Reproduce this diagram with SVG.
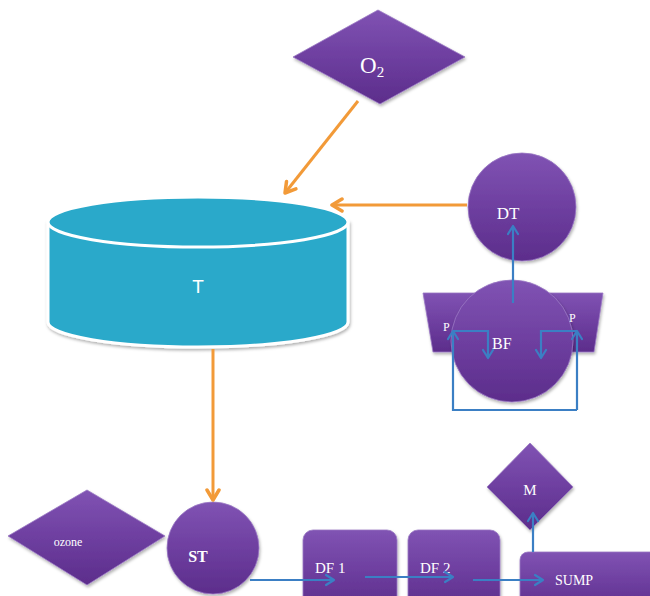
<svg xmlns="http://www.w3.org/2000/svg" width="650" height="596" viewBox="0 0 650 596">
  <defs>
    <linearGradient id="purple" x1="0" y1="0" x2="0" y2="1">
      <stop offset="0" stop-color="#8053b3"/>
      <stop offset="0.5" stop-color="#6e3fa0"/>
      <stop offset="1" stop-color="#5c2d8b"/>
    </linearGradient>
    <filter id="shadow" x="-20%" y="-20%" width="140%" height="140%">
      <feDropShadow dx="1" dy="2" stdDeviation="1.5" flood-color="#000" flood-opacity="0.3"/>
    </filter>
    <marker id="arrOrange" markerUnits="userSpaceOnUse" markerWidth="16" markerHeight="16" viewBox="0 0 16 16" refX="13" refY="8" orient="auto">
      <path d="M3,2 L13,8 L3,14" fill="none" stroke="#f29a38" stroke-width="3.5" stroke-linecap="round" stroke-linejoin="round"/>
    </marker>
    <marker id="arrBlue" markerUnits="userSpaceOnUse" markerWidth="14" markerHeight="14" viewBox="0 0 14 14" refX="11" refY="7" orient="auto">
      <path d="M3,2 L11,7 L3,12" fill="none" stroke="#3b7fc4" stroke-width="2.2" stroke-linecap="round" stroke-linejoin="round"/>
    </marker>
  </defs>
  <style>
    .node { fill: url(#purple); stroke: #9a78c4; stroke-width: 0.8; filter: url(#shadow); }
    .lbl { font-family: "Liberation Serif", "Times New Roman", serif; fill: #ffffff; }
    .orange { stroke: #f29a38; stroke-width: 3; fill: none; marker-end: url(#arrOrange); }
    .blue { stroke: #3b7fc4; stroke-width: 2.2; fill: none; }
    .blue.arr { marker-end: url(#arrBlue); }
  </style>

  <rect width="650" height="596" fill="#ffffff"/>

  <!-- Tank T -->
  <g id="tank-T">
    <path d="M48,222 L48,322 A150,25 0 0 0 348,322 L348,222 Z" fill="#2aa9ca" stroke="#ffffff" stroke-width="3" filter="url(#shadow)"/>
    <ellipse cx="198" cy="222" rx="150" ry="25" fill="#2aa9ca" stroke="#ffffff" stroke-width="3"/>
    <text x="198" y="293" font-family="Liberation Sans, Arial, sans-serif" font-size="19" fill="#ffffff" text-anchor="middle">T</text>
  </g>

  <!-- Oxygen supply -->
  <g id="node-O2">
    <polygon class="node" points="378,10 465,57 380,104 293,57"/>
    <text class="lbl" x="360" y="73" font-size="23">O<tspan font-size="15" dy="4">2</tspan></text>
  </g>

  <!-- DT -->
  <g id="node-DT">
    <circle class="node" cx="522" cy="207" r="54"/>
    <text class="lbl" x="508" y="219" font-size="17" text-anchor="middle">DT</text>
  </g>

  <!-- BF with pumps -->
  <g id="node-P-left">
    <polygon class="node" points="423,293 478,293 468,352 433,352"/>
  </g>
  <g id="node-P-right">
    <polygon class="node" points="549,293 603,293 594,352 560,352"/>
  </g>
  <g id="node-BF">
    <circle class="node" cx="512" cy="341" r="61"/>
    <text class="lbl" x="492" y="349" font-size="16">BF</text>
  </g>
  <g id="labels-P">
    <text class="lbl" x="443" y="331" font-size="12">P</text>
    <text class="lbl" x="569" y="322" font-size="12">P</text>
  </g>

  <!-- ozone -->
  <g id="node-ozone">
    <polygon class="node" points="87,490 165,536 87,585 8,536"/>
    <text class="lbl" x="68" y="546" font-size="12" text-anchor="middle">ozone</text>
  </g>

  <!-- ST -->
  <g id="node-ST">
    <circle class="node" cx="213" cy="548" r="46"/>
    <text class="lbl" x="198" y="562" font-size="16" font-weight="bold" text-anchor="middle">ST</text>
  </g>

  <!-- DF 1 -->
  <g id="node-DF1">
    <rect class="node" x="303" y="530" width="94" height="80" rx="10"/>
    <text class="lbl" x="315" y="573" font-size="15">DF 1</text>
  </g>

  <!-- DF 2 -->
  <g id="node-DF2">
    <rect class="node" x="408" y="530" width="92" height="80" rx="10"/>
    <text class="lbl" x="420" y="573" font-size="15">DF 2</text>
  </g>

  <!-- SUMP -->
  <g id="node-SUMP">
    <rect class="node" x="520" y="552" width="150" height="60" rx="8"/>
    <text class="lbl" x="555" y="585" font-size="14">SUMP</text>
  </g>

  <!-- M -->
  <g id="node-M">
    <polygon class="node" points="530,443 573,487 530,530 487,487"/>
    <text class="lbl" x="530" y="495" font-size="15" text-anchor="middle">M</text>
  </g>

  <!-- Connectors -->
  <g id="connectors">
    <line class="orange" x1="358" y1="101" x2="285" y2="193"/>
    <line class="orange" x1="467" y1="205" x2="332" y2="205"/>
    <line class="orange" x1="213" y1="349" x2="213" y2="500"/>

    <line class="blue arr" x1="513" y1="303" x2="513" y2="226"/>
    <polyline class="blue arr" points="577,410 453,410 453,331"/>
    <polyline class="blue arr" points="453,331 488,331 488,358"/>
    <line class="blue arr" x1="577" y1="410" x2="577" y2="331"/>
    <polyline class="blue arr" points="577,331 541,331 541,358"/>

    <line class="blue arr" x1="250" y1="580" x2="334" y2="580"/>
    <line class="blue arr" x1="365" y1="577" x2="453" y2="577"/>
    <line class="blue arr" x1="473" y1="580" x2="543" y2="580"/>
    <line class="blue arr" x1="533" y1="552" x2="533" y2="513"/>
  </g>
</svg>
